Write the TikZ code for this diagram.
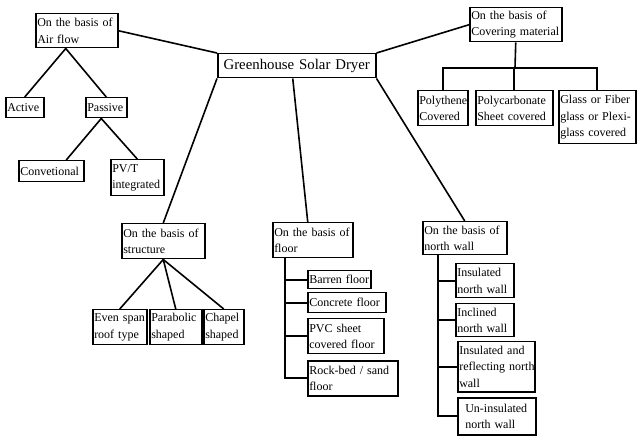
\documentclass[tikz,border=0pt]{standalone}
\usepackage{fontspec}
\setmainfont{Liberation Serif}
\tikzset{
  box/.style={draw, line width=1.5pt, anchor=north west, align=left,
    inner xsep=1.5pt, inner ysep=1pt, font=\fontsize{12}{16.5}\selectfont,
    execute at begin node={\hyphenpenalty=10000\exhyphenpenalty=10000}},
  link/.style={line width=1.6pt}
}
\begin{document}
\begin{tikzpicture}[x=1pt,y=-1pt]
\useasboundingbox (0,0) rectangle (640,438);

\node[box, text width=155pt, minimum height=24pt, font=\fontsize{14.8}{18}\selectfont, align=center] (gsd) at (217,53) {Greenhouse~Solar~Dryer};

\node[box, text width=79pt, minimum height=34pt] (air) at (35,13) {On~the~basis~of\\Air~flow};
\node[box, text width=35pt, minimum height=20pt] (active) at (5,97) {Active};
\node[box, text width=38pt, minimum height=20pt] (passive) at (85,97) {Passive};
\node[box, text width=62pt, minimum height=21pt] (conv) at (18,160) {Convetional};
\node[box, text width=50pt, minimum height=36pt] (pvt) at (110,159) {PV/T\\integrated};

\node[box, text width=89pt, minimum height=34pt] (cover) at (469,7) {On~the~basis~of\\Covering~material};
\node[box, text width=47pt, minimum height=35pt] (polyth) at (417,90) {Polythene\\Covered};
\node[box, text width=74pt, minimum height=35pt] (pcarb) at (475,90) {Polycarbonate\\Sheet~covered};
\node[box, text width=74pt, minimum height=53pt] (glass) at (558,90) {Glass~or~Fiber\\glass~or~Plexi-\\glass~covered};

\node[box, text width=80pt, minimum height=35pt] (struct) at (121,223) {On~the~basis~of\\structure};
\node[box, text width=51pt, minimum height=35pt] (even) at (92,309) {Even~span\\roof~type};
\node[box, text width=49pt, minimum height=35pt] (parab) at (149,309) {Parabolic\\shaped};
\node[box, text width=37pt, minimum height=35pt] (chapel) at (203,309) {Chapel\\shaped};

\node[box, text width=77pt, minimum height=35pt] (floor) at (272,222) {On~the~basis~of\\floor};
\node[box, text width=60pt, minimum height=18pt] (barren) at (307,270) {Barren~floor};
\node[box, text width=75pt, minimum height=20pt] (concrete) at (307,292) {Concrete~floor};
\node[box, text width=73pt, minimum height=35pt] (pvc) at (307,318) {PVC~sheet\\covered~floor};
\node[box, text width=87pt, minimum height=35pt] (rock) at (307,360) {Rock-bed~/~sand\\floor};

\node[box, text width=81pt, minimum height=33pt] (nwall) at (422,221) {On~the~basis~of\\north~wall};
\node[box, text width=55pt, minimum height=34pt] (insul) at (455,263) {Insulated\\north~wall};
\node[box, text width=55pt, minimum height=33pt] (incl) at (455,303) {Inclined\\north~wall};
\node[box, text width=74pt, minimum height=50pt] (refl) at (457,341) {Insulated~and\\reflecting~north\\wall};
\node[box, text width=75pt, minimum height=37pt] (uninsul) at (457,397) {\hspace{6pt}Un-insulated\\\hspace{6pt}north~wall};

\draw[link] (air.east) -- (gsd.north west);
\draw[link] (gsd.north east) -- (cover.west);
\draw[link] (gsd.south west) -- (struct.north);
\draw[link] ([xshift=-4pt]gsd.south) -- ([xshift=-5pt]floor.north);
\draw[link] (gsd.south east) -- (nwall.north);

\draw[link] (active.north) -- ([xshift=-11pt]air.south) -- (passive.north);
\draw[link] ([xshift=15pt]conv.north) -- ([xshift=-5pt]passive.south) -- (pvt.north);

\coordinate (cbus) at (515,68);
\draw[link] (cover.south) -- (cbus);
\foreach \n in {polyth,pcarb,glass}
  \draw[link] (cbus) -| (\n.north);

\foreach \n in {even,parab,chapel}
  \draw[link] (struct.south) -- (\n.north);

\coordinate (ftrunk) at ([xshift=13pt]floor.south west);
\foreach \n in {barren,concrete,pvc,rock}
  \draw[link] (ftrunk) |- (\n.west);

\coordinate (ntrunk) at ([xshift=16pt]nwall.south west);
\foreach \n in {insul,incl,refl,uninsul}
  \draw[link] (ntrunk) |- (\n.west);
\end{tikzpicture}
\end{document}
